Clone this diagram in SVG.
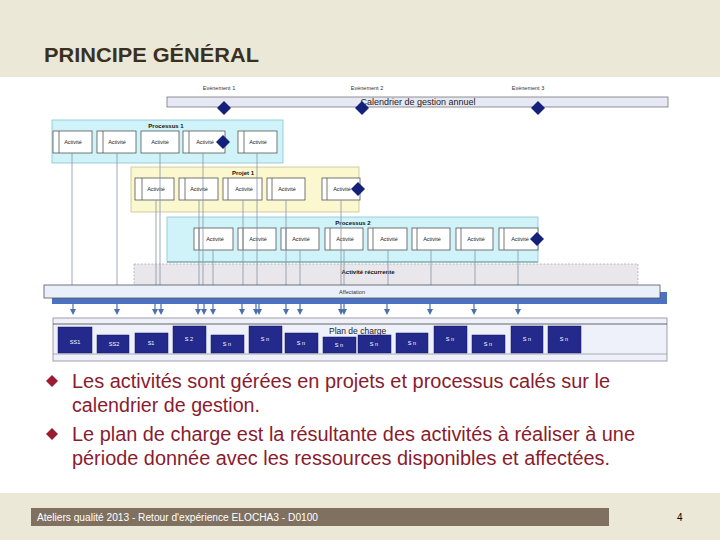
<svg xmlns="http://www.w3.org/2000/svg" width="720" height="540" viewBox="0 0 720 540">
<style>
.act{fill:#fff;stroke:#555;stroke-width:0.8}
.inner{stroke:#555;stroke-width:0.8}
.at{font-family:"Liberation Sans",Arial,sans-serif;font-size:5.5px;fill:#222;text-anchor:middle}
.pt{font-family:"Liberation Sans",Arial,sans-serif;font-size:6px;font-weight:bold;fill:#111;text-anchor:middle}
.ev{font-family:"Liberation Sans",Arial,sans-serif;font-size:5.5px;fill:#333;text-anchor:middle}
.dia{fill:#15207a}
.res{fill:#24298c;stroke:#151a60;stroke-width:0.5}
.rt{font-family:"Liberation Sans",Arial,sans-serif;font-size:5.5px;fill:#fff;text-anchor:middle}
.conn line{stroke:#8794a6;stroke-width:0.8}
.arr{fill:#4d70b0}
.bul{font-family:"Liberation Sans",Arial,sans-serif;font-size:19.5px;fill:#8a1c2e}
</style>
<defs>
<path id="dm" d="M0,-7 L7,0 L0,7 L-7,0 Z"/>
<path id="ar" d="M-0.6,-8 L0.6,-8 L0.6,-3 L3,-3 L0,3 L-3,-3 L-0.6,-3 Z"/>
</defs>
<rect width="720" height="540" fill="#ebe8d8"/>
<rect x="0" y="77" width="720" height="416" fill="#ffffff"/>
<text x="44" y="62" font-family="Liberation Sans,Arial,sans-serif" font-size="21" font-weight="bold" fill="#3b3020" textLength="215" lengthAdjust="spacingAndGlyphs">PRINCIPE GÉNÉRAL</text>

<g id="calendrier">
<text class="ev" x="219" y="90">Evènement 1</text>
<text class="ev" x="367" y="90">Evènement 2</text>
<text class="ev" x="528" y="90">Evènement 3</text>
<rect x="167" y="97" width="501" height="10" fill="#e6e8f6" stroke="#777" stroke-width="0.8"/>
<text x="418" y="105" font-family="Liberation Sans,Arial,sans-serif" font-size="9" fill="#222" text-anchor="middle">Calendrier de gestion annuel</text>
</g>

<g id="processus1">
<rect x="52" y="120" width="231" height="43" fill="#cff3f8" stroke="#88c4cc" stroke-width="0.8"/>
<text class="pt" x="166" y="128">Processus 1</text>
<rect class="act" x="53" y="131" width="39" height="22"/><line class="inner" x1="59" y1="131" x2="59" y2="153"/><text class="at" x="73" y="144">Activité</text>
<rect class="act" x="97" y="131" width="39" height="22"/><line class="inner" x1="103" y1="131" x2="103" y2="153"/><text class="at" x="117" y="144">Activité</text>
<rect class="act" x="141" y="131" width="38" height="22"/><text class="at" x="160" y="144">Activité</text>
<rect class="act" x="183" y="131" width="42" height="22"/><line class="inner" x1="189" y1="131" x2="189" y2="153"/><text class="at" x="205" y="144">Activité</text>
<rect class="act" x="238" y="131" width="39" height="22"/><line class="inner" x1="244" y1="131" x2="244" y2="153"/><text class="at" x="258" y="144">Activité</text>
</g>

<g id="projet1">
<rect x="131" y="167" width="228" height="45" fill="#fbf7cf" stroke="#c9c08e" stroke-width="0.8"/>
<text class="pt" x="243" y="175">Projet 1</text>
<rect class="act" x="135" y="178" width="39" height="22"/><line class="inner" x1="142" y1="178" x2="142" y2="200"/><text class="at" x="156" y="191">Activité</text>
<rect class="act" x="179" y="178" width="39" height="22"/><line class="inner" x1="185" y1="178" x2="185" y2="200"/><text class="at" x="199" y="191">Activité</text>
<rect class="act" x="223" y="178" width="39" height="22"/><line class="inner" x1="228" y1="178" x2="228" y2="200"/><text class="at" x="244" y="191">Activité</text>
<rect class="act" x="267" y="178" width="38" height="22"/><line class="inner" x1="272" y1="178" x2="272" y2="200"/><text class="at" x="287" y="191">Activité</text>
<rect class="act" x="322" y="178" width="38" height="22"/><line class="inner" x1="327" y1="178" x2="327" y2="200"/><text class="at" x="342" y="191">Activité</text>
</g>

<g id="processus2">
<rect x="167" y="217" width="371" height="45" fill="#cff3f8" stroke="#88c4cc" stroke-width="0.8"/>
<line x1="167" y1="262" x2="538" y2="262" stroke="#4f8f90" stroke-width="0.8"/>
<text class="pt" x="353" y="225">Processus 2</text>
<rect class="act" x="194" y="228" width="39" height="22"/><line class="inner" x1="199" y1="228" x2="199" y2="250"/><text class="at" x="215" y="241">Activité</text>
<rect class="act" x="238" y="228" width="38" height="22"/><line class="inner" x1="243" y1="228" x2="243" y2="250"/><text class="at" x="258" y="241">Activité</text>
<rect class="act" x="281" y="228" width="38" height="22"/><line class="inner" x1="286" y1="228" x2="286" y2="250"/><text class="at" x="301" y="241">Activité</text>
<rect class="act" x="325" y="228" width="38" height="22"/><line class="inner" x1="330" y1="228" x2="330" y2="250"/><text class="at" x="345" y="241">Activité</text>
<rect class="act" x="368" y="228" width="39" height="22"/><line class="inner" x1="373" y1="228" x2="373" y2="250"/><text class="at" x="389" y="241">Activité</text>
<rect class="act" x="412" y="228" width="38" height="22"/><line class="inner" x1="417" y1="228" x2="417" y2="250"/><text class="at" x="432" y="241">Activité</text>
<rect class="act" x="456" y="228" width="37" height="22"/><line class="inner" x1="461" y1="228" x2="461" y2="250"/><text class="at" x="476" y="241">Activité</text>
<rect class="act" x="499" y="228" width="39" height="22"/><line class="inner" x1="504" y1="228" x2="504" y2="250"/><text class="at" x="520" y="241">Activité</text>
</g>

<g id="recurrente">
<rect x="134" y="264" width="504" height="22" fill="#e9e7eb" stroke="#9a98a0" stroke-width="0.6" stroke-dasharray="2,1.5"/>
<text class="pt" x="368" y="274">Activité récurrente</text>
</g>

<g id="connecteurs" class="conn">
<line x1="72" y1="153" x2="72" y2="285"/>
<line x1="117" y1="153" x2="117" y2="285"/>
<line x1="160" y1="153" x2="160" y2="285"/>
<line x1="203" y1="153" x2="203" y2="285"/>
<line x1="257" y1="153" x2="257" y2="285"/>
<line x1="156" y1="200" x2="156" y2="285"/>
<line x1="199" y1="200" x2="199" y2="285"/>
<line x1="243" y1="200" x2="243" y2="285"/>
<line x1="286" y1="200" x2="286" y2="285"/>
<line x1="341" y1="200" x2="341" y2="285"/>
<line x1="213" y1="250" x2="213" y2="285"/>
<line x1="300" y1="250" x2="300" y2="285"/>
<line x1="344" y1="250" x2="344" y2="285"/>
<line x1="388" y1="250" x2="388" y2="285"/>
<line x1="431" y1="250" x2="431" y2="285"/>
<line x1="475" y1="250" x2="475" y2="285"/>
<line x1="518" y1="250" x2="518" y2="285"/>
</g>

<g id="jalons">
<use href="#dm" class="dia" x="224" y="108"/>
<use href="#dm" class="dia" x="362" y="108"/>
<use href="#dm" class="dia" x="538" y="108"/>
<use href="#dm" class="dia" x="223" y="142"/>
<use href="#dm" class="dia" x="358" y="189"/>
<use href="#dm" class="dia" x="537" y="239"/>
</g>

<g id="affectation">
<rect x="52" y="292" width="615" height="12" fill="#4a72c0"/>
<rect x="44" y="285" width="616" height="13" fill="#eaf0fb" stroke="#555" stroke-width="0.8"/>
<text class="ev" x="352" y="294">Affectation</text>
</g>

<g id="fleches" class="arr">
<use href="#ar" x="73" y="312"/>
<use href="#ar" x="117" y="312"/>
<use href="#ar" x="155" y="312"/>
<use href="#ar" x="161" y="312"/>
<use href="#ar" x="198" y="312"/>
<use href="#ar" x="204" y="312"/>
<use href="#ar" x="213" y="312"/>
<use href="#ar" x="242" y="312"/>
<use href="#ar" x="256" y="312"/>
<use href="#ar" x="259" y="312"/>
<use href="#ar" x="286" y="312"/>
<use href="#ar" x="300" y="312"/>
<use href="#ar" x="341" y="312"/>
<use href="#ar" x="344" y="312"/>
<use href="#ar" x="387" y="312"/>
<use href="#ar" x="430" y="312"/>
<use href="#ar" x="474" y="312"/>
<use href="#ar" x="518" y="312"/>
</g>

<g id="plan-de-charge">
<rect x="53" y="318" width="614" height="43" fill="#eef0fa" stroke="#8a8a96" stroke-width="0.8"/>
<line x1="53" y1="324" x2="667" y2="324" stroke="#444" stroke-width="0.8"/>
<line x1="53" y1="354" x2="667" y2="354" stroke="#9a9aa6" stroke-width="0.8"/>
<text x="329" y="334" font-family="Liberation Sans,Arial,sans-serif" font-size="8.5" fill="#222">Plan de charge</text>
<rect class="res" x="58" y="327" width="34" height="26"/><text class="rt" x="75" y="344">SS1</text>
<rect class="res" x="97" y="335" width="32" height="18"/><text class="rt" x="114" y="346">SS2</text>
<rect class="res" x="135" y="333" width="33" height="20"/><text class="rt" x="151" y="345">S1</text>
<rect class="res" x="173" y="326" width="33" height="27"/><text class="rt" x="189" y="341">S 2</text>
<rect class="res" x="211" y="335" width="33" height="18"/><text class="rt" x="227" y="346">S n</text>
<rect class="res" x="249" y="326" width="33" height="27"/><text class="rt" x="265" y="341">S n</text>
<rect class="res" x="285" y="333" width="33" height="20"/><text class="rt" x="301" y="345">S n</text>
<rect class="res" x="323" y="337" width="33" height="16"/><text class="rt" x="339" y="347">S n</text>
<rect class="res" x="358" y="335" width="33" height="18"/><text class="rt" x="374" y="346">S n</text>
<rect class="res" x="396" y="333" width="32" height="20"/><text class="rt" x="412" y="345">S n</text>
<rect class="res" x="434" y="326" width="33" height="27"/><text class="rt" x="450" y="341">S n</text>
<rect class="res" x="472" y="335" width="33" height="18"/><text class="rt" x="488" y="346">S n</text>
<rect class="res" x="511" y="326" width="32" height="27"/><text class="rt" x="527" y="341">S n</text>
<rect class="res" x="548" y="326" width="33" height="27"/><text class="rt" x="564" y="341">S n</text>
</g>

<g id="texte">
<path d="M52,375 L58,381 L52,387 L46,381 Z" fill="#9b1b30"/>
<text class="bul" x="72" y="388" textLength="538" lengthAdjust="spacingAndGlyphs">Les activités sont gérées en projets et processus calés sur le</text>
<text class="bul" x="72" y="412" textLength="188" lengthAdjust="spacingAndGlyphs">calendrier de gestion.</text>
<path d="M52,428 L58,434 L52,440 L46,434 Z" fill="#9b1b30"/>
<text class="bul" x="72" y="441" textLength="563" lengthAdjust="spacingAndGlyphs">Le plan de charge est la résultante des activités à réaliser à une</text>
<text class="bul" x="72" y="465" textLength="538" lengthAdjust="spacingAndGlyphs">période donnée avec les ressources disponibles et affectées.</text>
</g>

<g id="pied">
<rect x="31" y="508" width="578" height="18" fill="#7f7060"/>
<text x="37" y="521" font-family="Liberation Sans,Arial,sans-serif" font-size="10" fill="#fff" textLength="281" lengthAdjust="spacingAndGlyphs">Ateliers qualité 2013 - Retour d'expérience ELOCHA3 - D0100</text>
<text x="677" y="521" font-family="Liberation Sans,Arial,sans-serif" font-size="10" fill="#000">4</text>
</g>
</svg>
